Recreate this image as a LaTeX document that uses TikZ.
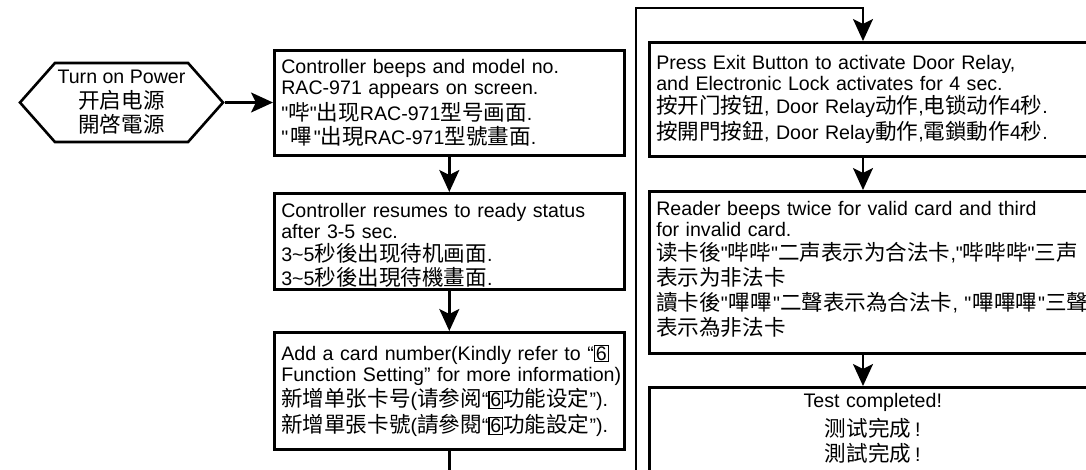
\documentclass[tikz,border=0pt]{standalone}
\usepackage{fontspec}
\newfontfamily\arial{Liberation Sans}
\newfontfamily\hans[Scale=1.1]{Noto Sans CJK SC}
\newfontfamily\hant[Scale=1.1]{Noto Sans CJK TC}
\newcommand\zs[1]{{\hans #1}}
\newcommand\zt[1]{{\hant #1}}
\newcommand\sqsix{{\setlength\fboxsep{0.8pt}\setlength\fboxrule{1.2pt}\fbox{6}}}
\usetikzlibrary{arrows.meta,shapes.symbols}
\tikzset{
    flowbox/.style={draw,line width=2.6pt,anchor=north west,inner xsep=7pt,inner ysep=0pt,align=left},
    flow/.style={line width=2.4pt,-{Stealth[length=22pt,width=20pt,inset=5pt]}},
    every node/.append style={font=\arial\fontsize{19.6}{21}\selectfont}
}

\begin{document}
\begin{tikzpicture}[x=1pt,y=-1pt]
    \useasboundingbox (0,0) rectangle (1086,469);
    \node[draw,line width=2.6pt,signal,signal to=west and east,signal pointer angle=97,
          minimum width=203pt,minimum height=79pt,inner sep=0pt,align=center] (power) at (121.5,102.5)
          {Turn on Power\\[4pt]\zs{开启电源}\\[3pt]\zt{開啓電源}};
    \node[flowbox,minimum width=350pt,minimum height=105pt,text width=336pt] (beep) at (273,49)
          {Controller beeps and model no.\\
           RAC-971 appears on screen.\\[2pt]
           "\zs{哔}"\zs{出现}RAC-971\zs{型号画面}.\\[3pt]
           "\kern2pt\zt{嗶}\kern2pt"\zt{出現}RAC-971\zt{型號畫面}.};
    \node[flowbox,minimum width=350pt,minimum height=96pt,text width=336pt] (ready) at (273,192)
          {\rule{0pt}{22pt}Controller resumes to ready status\\
           after 3-5 sec.\\[2pt]
           3\textasciitilde 5\zs{秒後出现待机画面}.\\[3pt]
           3\textasciitilde 5\zt{秒後出現待機畫面}.};
    \node[flowbox,minimum width=350pt,minimum height=117pt,text width=336pt] (addcard) at (273,331)
          {\mbox{Add a card number(Kindly refer to “\sqsix}\\
           \mbox{Function Setting” for more information)}\\[2pt]
           \mbox{\zs{新增单张卡号}(\zs{请参阅}“\sqsix\zs{功能设定}”).}\\[3pt]
           \mbox{\zt{新增單張卡號}(\zt{請參閱}“\sqsix\zt{功能設定}”).}};
    \node[flowbox,minimum width=447pt,minimum height=114pt,text width=433pt] (exitbtn) at (648,41)
          {Press Exit Button to activate Door Relay,\\
           and Electronic Lock activates for 4 sec.\\[2pt]
           \zs{按开门按钮}, Door Relay\zs{动作},\zs{电锁动作}4\zs{秒}.\\[3pt]
           \zt{按開門按鈕}, Door Relay\zt{動作},\zt{電鎖動作}4\zt{秒}.};
    \node[flowbox,minimum width=447pt,minimum height=162pt,text width=433pt] (reader) at (648,190)
          {Reader beeps twice for valid card and third\\
           for invalid card.\\[3pt]
           \mbox{\zs{读卡後}"\zs{哔哔}"\zs{二声表示为合法卡},"\zs{哔哔哔}"\zs{三声}}\\[4pt]
           \zs{表示为非法卡}\\[4pt]
           \mbox{\zt{讀卡後}"\kern1pt\zt{嗶嗶}\kern1pt"\zt{二聲表示為合法卡}, "\kern1pt\zt{嗶嗶嗶}\kern1pt"\zt{三聲}}\\[4pt]
           \zt{表示為非法卡}\rule[-7pt]{0pt}{0pt}};
    \node[flowbox,minimum width=447pt,minimum height=86pt,text width=433pt,align=center] (done) at (648,386)
          {Test completed!\\[5pt]
           \zs{测试完成}\kern4pt!\\[4pt]
           \zt{測試完成}\kern4pt!\rule[-6pt]{0pt}{0pt}};
    \coordinate (col2) at (863,0);
    \coordinate (loopdown) at (636,476);
    \coordinate (loopup) at (636,8);
    \draw[flow] (power.east) -- (power.east -| beep.west);
    \draw[flow] (beep.south) -- (ready.north);
    \draw[flow] (ready.south) -- (addcard.north);
    \draw[flow] (addcard.south) |- (loopdown) -- (loopup) -| (col2 |- exitbtn.north);
    \draw[flow] (col2 |- exitbtn.south) -- (col2 |- reader.north);
    \draw[flow] (col2 |- reader.south) -- (col2 |- done.north);
\end{tikzpicture}
\end{document}
